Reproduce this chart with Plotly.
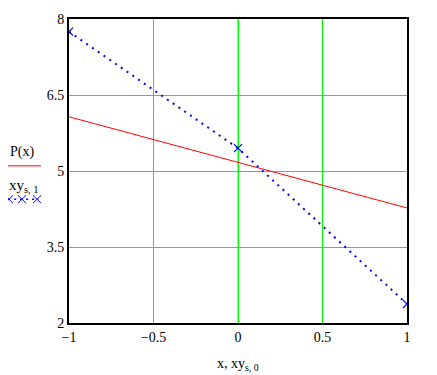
import plotly.graph_objects as go

# data
x_range = [-1, 1]
y_range = [2, 8]
p_x = [-1, 1]
p_y = [6.07, 4.27]          # P(x) line
xys_x = [-1, 0, 1]           # xy_{s,0}
xys_y = [7.75, 5.45, 2.375]  # xy_{s,1}
vlines = [0, 0.5]
xticks = [-1, -0.5, 0, 0.5, 1]
xtick_text = ["\u22121", "\u22120.5", "0", "0.5", "1"]
yticks = [2, 3.5, 5, 6.5, 8]
ytick_text = ["2", "3.5", "5", "6.5", "8"]

FONT = "Liberation Serif"
GREEN = "#00FF00"

fig = go.Figure()
for v in vlines:
    fig.add_trace(go.Scatter(x=[v, v], y=y_range, mode="lines",
                             line=dict(color=GREEN, width=1), showlegend=False, hoverinfo="skip"))
fig.add_trace(go.Scatter(x=p_x, y=p_y, mode="lines",
                         line=dict(color="#FF0000", width=1), showlegend=False))
fig.add_trace(go.Scatter(x=xys_x, y=xys_y, mode="lines+markers",
                         line=dict(color="#0000FF", width=2, dash="2px,5px"),
                         marker=dict(symbol="x-thin", size=8, line=dict(color="#0000FF", width=1.2)),
                         showlegend=False))

fig.update_xaxes(range=x_range, tickvals=xticks, ticktext=xtick_text,
                 showgrid=True, gridcolor=GREEN, gridwidth=1, zeroline=False,
                 showline=True, linecolor="black", linewidth=2, mirror=True,
                 ticks="", automargin=False,
                 tickfont=dict(family=FONT, size=14, color="black"))
fig.update_yaxes(range=y_range, tickvals=yticks, ticktext=ytick_text,
                 showgrid=True, gridcolor=GREEN, gridwidth=1, zeroline=False,
                 showline=True, linecolor="black", linewidth=2, mirror=True,
                 ticks="", automargin=False, tickfont=dict(family=FONT, size=14, color="black"))

# axis title and manual legend
ann = [
    dict(text="x, xy<sub>s, 0</sub>", x=0.5, y=-0.135, xref="paper", yref="paper", showarrow=False,
         xanchor="center", yanchor="middle", font=dict(family=FONT, size=14, color="black")),
    dict(text="P(x)", x=-0.139, y=0.562, xref="paper", yref="paper", showarrow=False,
         xanchor="center", yanchor="middle", font=dict(family=FONT, size=14, color="black")),
    dict(text="xy<sub>s, 1</sub>", x=-0.133, y=0.452, xref="paper", yref="paper", showarrow=False,
         xanchor="center", yanchor="middle", font=dict(family=FONT, size=15, color="black")),
]
shapes = [dict(type="line", xref="paper", yref="paper", x0=-0.186, x1=-0.083, y0=0.517, y1=0.517,
               line=dict(color="#FF0000", width=1))]
for cx in [-0.1775, -0.139, -0.0947]:
    dx, dy = 0.012, 0.013
    shapes.append(dict(type="line", xref="paper", yref="paper", x0=cx - dx, x1=cx + dx,
                       y0=0.407 - dy, y1=0.407 + dy, line=dict(color="#0000FF", width=1)))
    shapes.append(dict(type="line", xref="paper", yref="paper", x0=cx - dx, x1=cx + dx,
                       y0=0.407 + dy, y1=0.407 - dy, line=dict(color="#0000FF", width=1)))
shapes.append(dict(type="line", xref="paper", yref="paper", x0=-0.18, x1=-0.09, y0=0.407, y1=0.407,
                   line=dict(color="#0000FF", width=1.5, dash="2px,4px")))

# page body has an 8px margin: compensate so the plot area lands at (69..407, 19..323)
fig.update_layout(width=429, height=367, margin=dict(l=61, r=30, t=11, b=52),
                  plot_bgcolor="white", paper_bgcolor="white",
                  annotations=ann, shapes=shapes, showlegend=False)
fig.write_html("out.html")
